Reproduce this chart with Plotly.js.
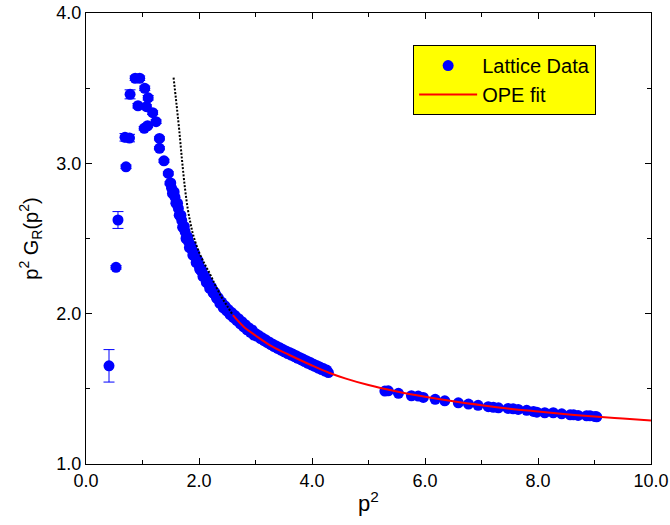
<!DOCTYPE html>
<html>
<head>
<meta charset="utf-8">
<script src="https://cdn.plot.ly/plotly-3.0.1.min.js"></script>
<style>html,body{margin:0;padding:0;background:#fff;}#chart{width:670px;height:525px;}</style>
</head>
<body>
<div id="chart"></div>
<script>
// Low-momentum lattice points (with visible error bars)
const lowX = [0.407,0.531,0.566,0.708,0.69,0.77,0.78,0.87,0.95,0.92,1.04,1.10,1.07,1.18,1.24,1.03,1.09,1.30,1.30,1.38,1.457,1.487];
const lowY = [1.653,2.308,2.623,2.977,3.173,3.168,3.459,3.566,3.566,3.383,3.499,3.436,3.377,3.337,3.277,3.233,3.25,3.166,3.10,3.017,2.933,2.867];
const lowErr = [0.108,0.012,0.056,0.012,0.025,0.025,0.03,0.015,0.015,0.015,0.015,0.015,0.012,0.012,0.012,0.012,0.012,0.01,0.01,0.01,0.01,0.01];

// Dense lattice band (first sequence)
const bandX = [1.50,1.53,1.56,1.59,1.62,1.65,1.68,1.71,1.74,1.77,1.80,1.83,1.86,1.89,1.92,1.95,1.98,2.01,2.04,2.07,2.10,2.13,2.16,2.19,2.22,2.25,2.28,2.31,2.34,2.37,2.40,2.43,2.46,2.49,2.52,2.55,2.58,2.61,2.64,2.67,2.70,2.73,2.76,2.79,2.82,2.85,2.88,2.91,2.94,2.97,3.00,3.03,3.06,3.09,3.12,3.15,3.18,3.21,3.24,3.27,3.30,3.33,3.36,3.39,3.42,3.45,3.48,3.51,3.54,3.57,3.60,3.63,3.66,3.69,3.72,3.75,3.78,3.81,3.84,3.87,3.90,3.93,3.96,3.99,4.02,4.05,4.08,4.11,4.14,4.17,4.20,4.23,4.26,4.29];
const bandY = [2.87,2.80,2.81,2.735,2.735,2.655,2.655,2.575,2.58,2.50,2.51,2.44,2.455,2.39,2.405,2.34,2.355,2.298,2.297,2.248,2.252,2.208,2.212,2.168,2.177,2.138,2.142,2.103,2.107,2.068,2.077,2.038,2.052,2.018,2.027,1.993,2.007,1.973,1.987,1.953,1.967,1.933,1.947,1.913,1.927,1.893,1.907,1.876,1.892,1.858,1.868,1.849,1.854,1.834,1.839,1.820,1.826,1.807,1.812,1.794,1.799,1.781,1.787,1.769,1.775,1.757,1.763,1.746,1.752,1.735,1.742,1.725,1.731,1.714,1.720,1.703,1.709,1.692,1.698,1.681,1.687,1.670,1.677,1.659,1.666,1.649,1.656,1.638,1.645,1.628,1.635,1.618,1.625,1.608];

// Dense lattice band (second, interleaved sequence)
const band2X = [1.515,1.545,1.575,1.605,1.635,1.665,1.695,1.725,1.755,1.785,1.815,1.845,1.875,1.905,1.935,1.965,1.995,2.025,2.055,2.085,2.115,2.145,2.175,2.205,2.235,2.265,2.295,2.325,2.355,2.385,2.415,2.445,2.475,2.505,2.535,2.565];
const band2Y = [2.835,2.80,2.775,2.73,2.70,2.65,2.62,2.57,2.545,2.50,2.48,2.44,2.428,2.39,2.378,2.34,2.328,2.29,2.277,2.245,2.235,2.205,2.195,2.168,2.162,2.135,2.127,2.100,2.092,2.068,2.062,2.040,2.040,2.018,2.014,1.996];

// High-momentum lattice points
const highX = [5.29,5.35,5.53,5.76,5.88,5.97,6.18,6.35,6.59,6.77,6.94,7.12,7.21,7.30,7.47,7.56,7.65,7.80,7.92,7.98,8.12,8.27,8.42,8.57,8.63,8.71,8.86,8.92,9.01,9.04];
const highY = [1.485,1.487,1.470,1.454,1.452,1.443,1.430,1.420,1.407,1.399,1.390,1.381,1.377,1.374,1.370,1.367,1.363,1.357,1.350,1.345,1.341,1.341,1.334,1.327,1.327,1.323,1.321,1.321,1.316,1.314];

// OPE fit (red) and its extrapolation (black dotted)
const fitX = [2.6,2.8,3.0,3.3,3.6,4.0,4.3,4.6,5.0,5.5,6.0,6.5,7.0,7.5,8.0,8.5,9.0,9.5,10.0];
const fitY = [1.99,1.91,1.855,1.78,1.725,1.655,1.607,1.568,1.525,1.482,1.447,1.417,1.391,1.368,1.349,1.331,1.316,1.302,1.29];
const extX = [1.55,1.60,1.65,1.70,1.75,1.80,1.85,1.90,2.0,2.1,2.2,2.3,2.4,2.5,2.6];
const extY = [3.57,3.40,3.22,3.02,2.84,2.70,2.60,2.52,2.41,2.33,2.26,2.18,2.11,2.05,1.99];

const BLUE = '#0000ff';
const FONT = 'Liberation Sans, Arial, Helvetica, sans-serif';
const mk = {color: BLUE, size: 11, symbol: 'circle'};

const traces = [
  {x: bandX.concat(band2X, highX), y: bandY.concat(band2Y, highY), type: 'scatter', mode: 'markers',
   name: 'Lattice Data', legendgroup: 'lat', marker: mk},
  {x: lowX, y: lowY, type: 'scatter', mode: 'markers', showlegend: false, legendgroup: 'lat',
   marker: mk,
   error_y: {type: 'data', array: lowErr, visible: true, color: BLUE, thickness: 1, width: 5.5}},
  {x: extX, y: extY, type: 'scatter', mode: 'lines', showlegend: false,
   line: {color: 'black', width: 2, dash: '2px,1.6px', shape: 'spline'}},
  {x: fitX, y: fitY, type: 'scatter', mode: 'lines', name: 'OPE fit',
   line: {color: '#ff0000', width: 2, shape: 'spline'}}
];

const axisCommon = {
  showline: true, linecolor: 'black', linewidth: 1, mirror: 'ticks',
  ticks: 'inside', ticklen: 6, tickwidth: 1, tickcolor: 'black',
  showgrid: false, zeroline: false, tickformat: '.1f',
  tickfont: {family: FONT, size: 18, color: 'black'}
};

const layout = {
  width: 670, height: 525,
  margin: {l: 86, r: 19, t: 13, b: 61},
  paper_bgcolor: 'white', plot_bgcolor: 'white',
  font: {family: FONT, color: 'black'},
  xaxis: Object.assign({}, axisCommon, {
    range: [0, 10], dtick: 2, tick0: 0,
    minor: {dtick: 1, ticks: 'inside', ticklen: 4, tickcolor: 'black', showgrid: false},
    title: {text: 'p<sup>2</sup>', font: {family: FONT, size: 22, color: 'black'}, standoff: 6}
  }),
  yaxis: Object.assign({}, axisCommon, {
    range: [1, 4], dtick: 1, tick0: 0,
    minor: {dtick: 0.5, ticks: 'inside', ticklen: 4, tickcolor: 'black', showgrid: false},
    title: {text: 'p<sup>2</sup> G<sub>R</sub>(p<sup>2</sup>)', font: {family: FONT, size: 20, color: 'black'}, standoff: 12}
  }),
  legend: {
    x: 0.579, y: 0.929, xanchor: 'left', yanchor: 'top',
    bgcolor: '#ffff00', bordercolor: 'black', borderwidth: 1,
    font: {family: FONT, size: 20, color: 'black'},
    itemwidth: 58, tracegroupgap: 0
  },
  showlegend: true
};

Plotly.newPlot('chart', traces, layout, {displayModeBar: false, staticPlot: true});
</script>
</body>
</html>
